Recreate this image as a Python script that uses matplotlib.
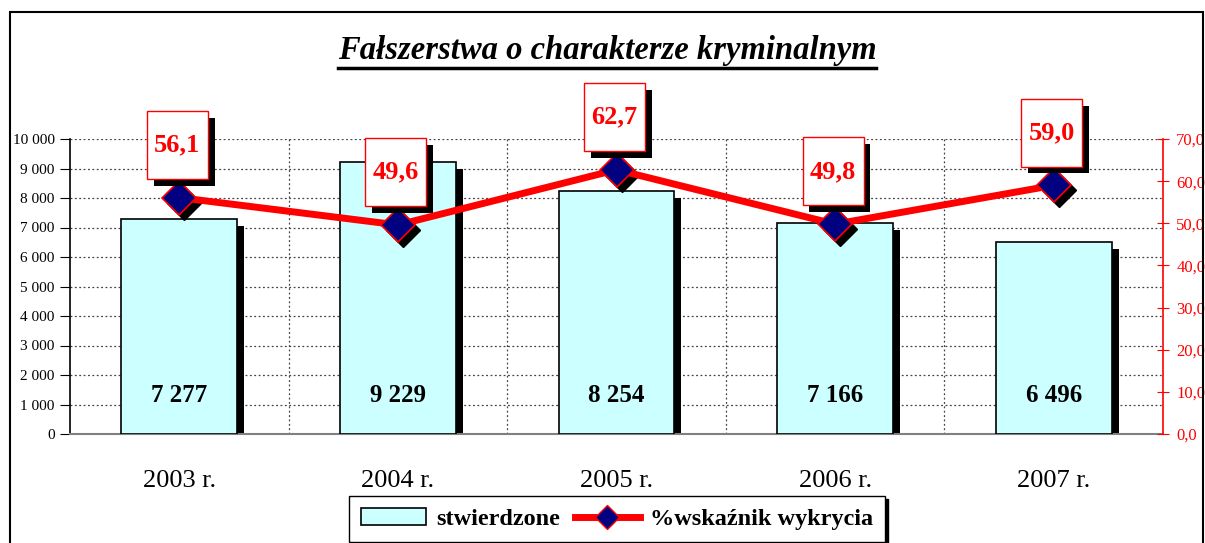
import numpy as np
import matplotlib
matplotlib.use("Agg")
import matplotlib.pyplot as plt
import matplotlib.transforms as mtransforms
import matplotlib.patheffects as pe
from matplotlib.path import Path
from matplotlib.patches import Rectangle, Patch
from matplotlib.lines import Line2D

plt.rcParams['font.family'] = ['Liberation Serif', 'DejaVu Serif']

# dane z wykresu
lata = ["2003 r.", "2004 r.", "2005 r.", "2006 r.", "2007 r."]
stwierdzone = [7277, 9229, 8254, 7166, 6496]
wskaznik = [56.1, 49.6, 62.7, 49.8, 59.0]

tytul = "Fałszerstwa o charakterze kryminalnym"
etykieta_slupki = "stwierdzone"
etykieta_linia = "%wskaźnik wykrycia"

fig = plt.figure(figsize=(12.05, 5.43), dpi=100)
W, H = 1205, 543

# ramka całego wykresu
fig.patches.append(Rectangle((10 / W, -0.05), 1193 / W, 1.05 - 12 / H,
                             transform=fig.transFigure, fill=False,
                             edgecolor="black", linewidth=1.5))

ax = fig.add_axes([70 / W, 1 - 434 / H, 1093 / W, 295 / H])
x = np.arange(len(lata))

def przesun(tr, dx, dy):
    return tr + mtransforms.ScaledTranslation(dx / 100, dy / 100, fig.dpi_scale_trans)

# cień słupków
ax.bar(x, stwierdzone, width=0.53, color="black", zorder=2,
       transform=przesun(ax.transData, 7, -7))
ax.bar(x, stwierdzone, width=0.53, color="#ccffff", edgecolor="black",
       linewidth=1.2, zorder=3)

for xi, v in zip(x, stwierdzone):
    ax.text(xi, 1300, f"{v:,}".replace(",", " "), ha="center", va="center",
            fontsize=18, fontweight="bold", zorder=4)

ax.set_xlim(-0.5, len(lata) - 0.5)
ax.set_ylim(0, 10000)
ax.set_yticks(np.arange(0, 10001, 1000))
ax.set_yticklabels([f"{v:,}".replace(",", " ") for v in range(0, 10001, 1000)])
ax.tick_params(axis="y", direction="out", length=7, labelsize=11, pad=4)
ax.set_xticks(x)
ax.set_xticklabels(lata, fontsize=19)
ax.tick_params(axis="x", length=0, pad=26)
ax.set_xticks(np.arange(0.5, len(lata) - 0.5, 1), minor=True)
ax.tick_params(axis="x", which="minor", length=0)
ax.grid(axis="y", linestyle=(0, (1.5, 2)), color="#444444", linewidth=0.9)
ax.grid(axis="x", which="minor", linestyle=(0, (1.5, 2)), color="#444444", linewidth=0.9)
ax.set_axisbelow(True)
for s in ["top", "right"]:
    ax.spines[s].set_visible(False)
ax.spines["bottom"].set_color("#808080")
ax.spines["bottom"].set_linewidth(1.5)
ax.spines["left"].set_linewidth(1.2)

ax2 = ax.twinx()
ax2.set_ylim(0, 70)
ax2.set_yticks(np.arange(0, 71, 10))
ax2.set_yticklabels([f"{v:.1f}".replace(".", ",") for v in range(0, 71, 10)])
ax2.tick_params(axis="y", colors="red", direction="inout", length=9,
                labelsize=12, pad=5)
for s in ["top", "left", "bottom"]:
    ax2.spines[s].set_visible(False)
ax2.spines["right"].set_color("red")
ax2.spines["right"].set_linewidth(1.2)

# cień znaczników
ax2.plot(x, wskaznik, linestyle="none", marker="D", markersize=17,
         color="black", transform=przesun(ax2.transData, 5, -5), zorder=2)
ax2.plot(x, wskaznik, color="red", linewidth=5, marker="D", markersize=17,
         markerfacecolor="#000080", markeredgecolor="red", markeredgewidth=1.2,
         zorder=3)

def pudelko(x0, y0, width, height, mutation_size):
    px = 0.28 * mutation_size
    py = 0.85 * mutation_size
    x0, x1 = x0 - px, x0 + width + px
    y0, y1 = y0 - py, y0 + height + py
    return Path([(x0, y0), (x1, y0), (x1, y1), (x0, y1), (x0, y0)], closed=True)

for xi, v in zip(x, wskaznik):
    txt = f"{v:.1f}".replace(".", ",")
    a = ax2.annotate(txt, (xi, v), xytext=(-1.5, 38), textcoords="offset points",
                     ha="center", va="center", fontsize=19, fontweight="bold",
                     color="red", zorder=6,
                     bbox=dict(boxstyle=pudelko, fc="white", ec="red", lw=1))
    a.get_bbox_patch().set_path_effects([
        pe.SimplePatchShadow(offset=(5, -5), shadow_rgbFace="black", alpha=1),
        pe.Normal()])

# tytuł z podkreśleniem
t = fig.text(607 / W, 1 - 51 / H, tytul, ha="center", va="center", fontsize=23.5,
             fontweight="bold", fontstyle="italic")
fig.canvas.draw()
bb = t.get_window_extent().transformed(fig.transFigure.inverted())
fig.add_artist(Line2D([bb.x0, bb.x1], [1 - 68 / H, 1 - 68 / H],
                      transform=fig.transFigure, color="black", linewidth=2.5))

uchwyty = [Patch(facecolor="#ccffff", edgecolor="black", linewidth=1.2),
           Line2D([], [], color="red", linewidth=5, marker="D", markersize=12,
                  markerfacecolor="#000080", markeredgecolor="red")]
leg = fig.legend(uchwyty, [etykieta_slupki, etykieta_linia], loc="upper center",
                 bbox_to_anchor=(617 / W, 1 - 484 / H), ncol=2, frameon=True,
                 fancybox=False, edgecolor="black", framealpha=1,
                 prop={"weight": "bold", "size": 17.5}, handlelength=2.7,
                 columnspacing=0.6, handletextpad=0.4, borderpad=0.5,
                 shadow={"color": "black", "alpha": 1})
leg.get_frame().set_linewidth(1.0)

fig.savefig("out.png", dpi=100)
